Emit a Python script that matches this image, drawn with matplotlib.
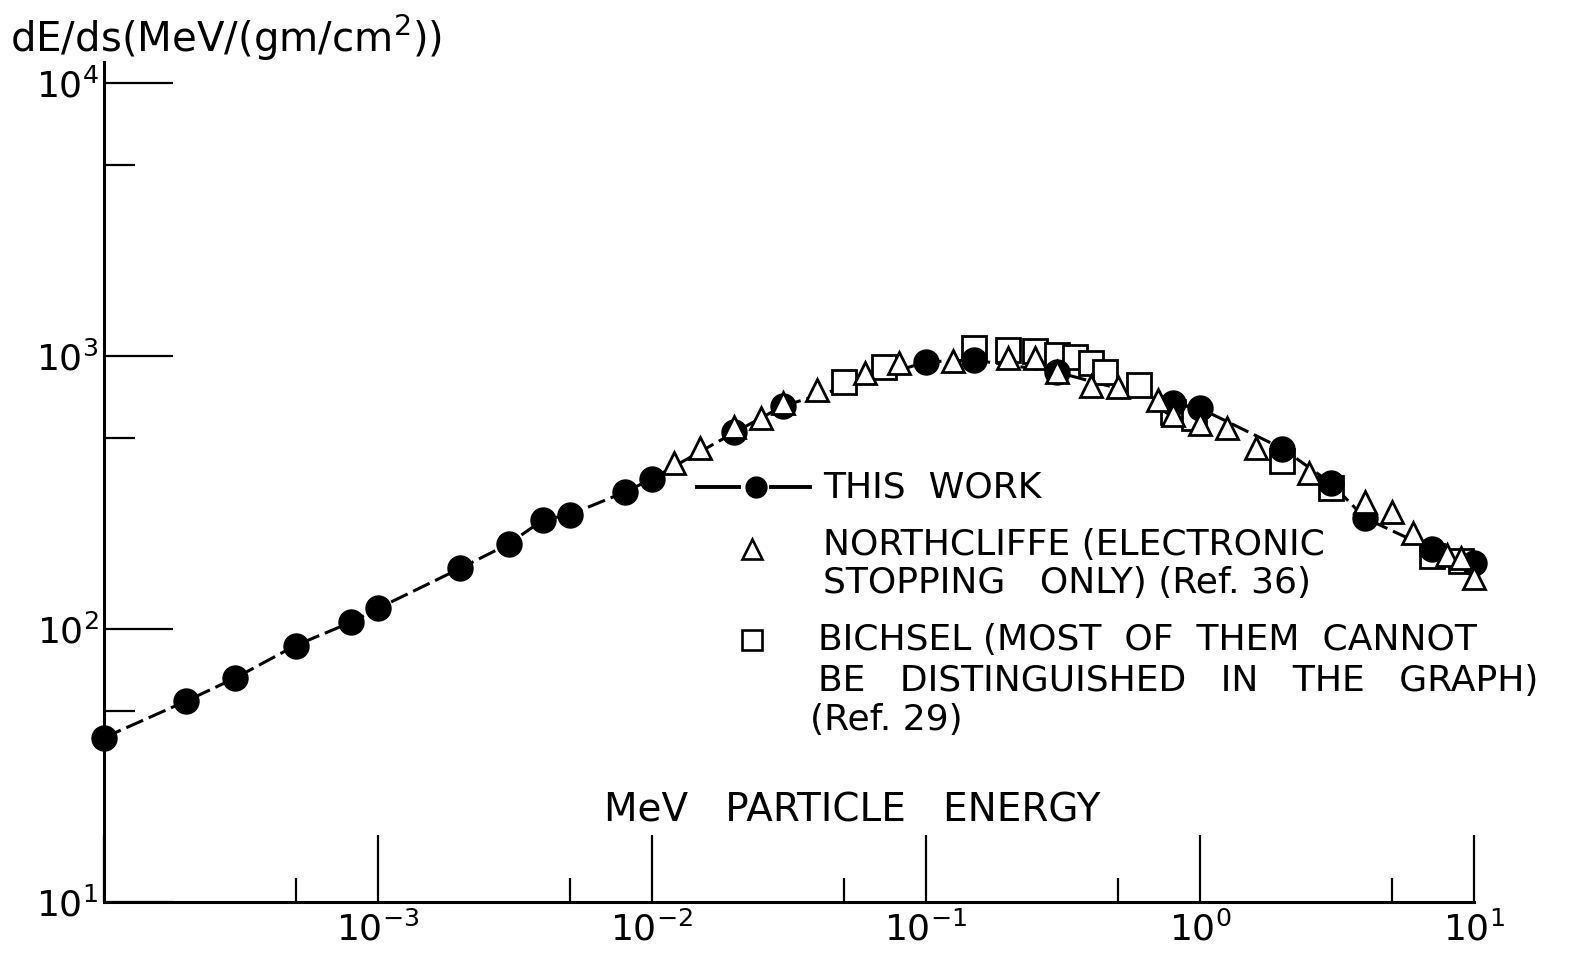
import matplotlib
matplotlib.use("Agg")
import matplotlib.pyplot as plt
from matplotlib.lines import Line2D
from matplotlib.ticker import FixedLocator, NullFormatter

# Stopping power dE/ds (MeV/(gm/cm^2)) versus particle energy (MeV)
this_work_energy = [1e-4, 2e-4, 3e-4, 5e-4, 8e-4, 1e-3, 2e-3, 3e-3, 4e-3, 5e-3,
                    8e-3, 1e-2, 2e-2, 3e-2, 0.1, 0.15, 0.3, 0.8, 1.0, 2.0,
                    3.0, 4.0, 7.0, 10.0]
this_work_dedx = [40, 54.5, 66, 87, 106, 119, 167, 205, 251, 262,
                  318, 355, 525, 655, 951, 967, 873, 671, 643, 458,
                  343, 255, 196, 174]

northcliffe_energy = [0.012, 0.015, 0.02, 0.025, 0.03, 0.04, 0.06, 0.08, 0.125,
                      0.2, 0.25, 0.3, 0.4, 0.5, 0.7, 0.8, 1.0, 1.25, 1.6,
                      2.5, 4.0, 5.0, 6.0, 8.0, 9.0, 10.0]
northcliffe_dedx = [406, 460, 550, 593, 673, 750, 866, 943, 959,
                    983, 983, 874, 776, 770, 690, 608, 563, 545, 460,
                    373, 292, 268, 225, 187, 182, 154]

bichsel_energy = [0.05, 0.07, 0.15, 0.2, 0.25, 0.3, 0.35, 0.4, 0.45, 0.6,
                  0.8, 0.95, 2.0, 3.0, 7.0, 9.0]
bichsel_dedx = [803, 912, 1070, 1052, 1043, 1008, 991, 943, 874, 783,
                623, 593, 412, 328, 185, 178]

x_major = [1e-4, 1e-3, 1e-2, 1e-1, 1e0, 1e1]
x_minor = [5e-4, 5e-3, 5e-2, 5e-1, 5e0]
x_labels = ["", r"$10^{-3}$", r"$10^{-2}$", r"$10^{-1}$", r"$10^{0}$", r"$10^{1}$"]
y_major = [1e1, 1e2, 1e3, 1e4]
y_minor = [5e1, 5e2, 5e3]
y_labels = [r"$10^{1}$", r"$10^{2}$", r"$10^{3}$", r"$10^{4}$"]

W, H = 1577, 961
fig = plt.figure(figsize=(W / 100, H / 100), dpi=100)
fig.patch.set_facecolor("white")

left, right, bottom, top = 104, 1474, 902, 62
ax = fig.add_axes([left / W, 1 - bottom / H, (right - left) / W, (bottom - top) / H])
ax.set_xscale("log")
ax.set_yscale("log")
ax.set_xlim(1e-4, 1e1)
ax.set_ylim(10, 10 ** (1 + (bottom - top) / 273))

for side in ("top", "right"):
    ax.spines[side].set_visible(False)
for side in ("left", "bottom"):
    ax.spines[side].set_linewidth(2.2)
    ax.spines[side].set_color("black")

ax.xaxis.set_major_locator(FixedLocator(x_major))
ax.xaxis.set_minor_locator(FixedLocator(x_minor))
ax.set_xticklabels(x_labels)
ax.xaxis.set_minor_formatter(NullFormatter())
ax.yaxis.set_major_locator(FixedLocator(y_major))
ax.yaxis.set_minor_locator(FixedLocator(y_minor))
ax.set_yticklabels(y_labels)
ax.yaxis.set_minor_formatter(NullFormatter())

ax.tick_params(axis="x", which="major", direction="in", length=48, width=1.6,
               labelsize=26, pad=7)
ax.tick_params(axis="x", which="minor", direction="in", length=17, width=1.6)
ax.tick_params(axis="y", which="major", direction="in", length=50, width=1.6,
               labelsize=26, pad=4)
ax.tick_params(axis="y", which="minor", direction="in", length=22, width=1.6)

# measured curve with dashed connecting line
ax.plot(this_work_energy, this_work_dedx, color="black", lw=2.2,
        linestyle=(0, (6, 2)), zorder=1, clip_on=False)
ax.plot(bichsel_energy, bichsel_dedx, linestyle="none", marker="s",
        markersize=17, markerfacecolor="white", markeredgecolor="black",
        markeredgewidth=2.0, zorder=2, clip_on=False)
ax.plot(this_work_energy, this_work_dedx, linestyle="none", marker="o",
        markersize=18, markerfacecolor="black", markeredgecolor="black",
        zorder=3, clip_on=False)
ax.plot(northcliffe_energy, northcliffe_dedx, linestyle="none", marker="^",
        markersize=16, markerfacecolor="white", markeredgecolor="black",
        markeredgewidth=2.0, zorder=4, clip_on=False)


def fx(px):
    return px / W


def fy(py):
    return 1 - py / H


fig.text(fx(10), fy(38), r"dE/ds(MeV/(gm/cm$^2$))", fontsize=29,
         ha="left", va="center")
fig.text(fx(852), fy(810), "MeV   PARTICLE   ENERGY", fontsize=28,
         ha="center", va="center")

# key
fig.add_artist(Line2D([fx(697), fx(739)], [fy(487), fy(487)],
                      transform=fig.transFigure, color="black", lw=2.8))
fig.add_artist(Line2D([fx(771), fx(810)], [fy(487), fy(487)],
                      transform=fig.transFigure, color="black", lw=2.8))
fig.add_artist(Line2D([fx(756)], [fy(487)], transform=fig.transFigure,
                      marker="o", markersize=15, color="black", linestyle="none"))
fig.add_artist(Line2D([fx(752)], [fy(549)], transform=fig.transFigure,
                      marker="^", markersize=14, markerfacecolor="white",
                      markeredgecolor="black", markeredgewidth=1.9,
                      linestyle="none"))
fig.add_artist(Line2D([fx(752)], [fy(640)], transform=fig.transFigure,
                      marker="s", markersize=15, markerfacecolor="white",
                      markeredgecolor="black", markeredgewidth=1.9,
                      linestyle="none"))

key_size = 26
fig.text(fx(823), fy(487), "THIS  WORK", fontsize=key_size, va="center")
fig.text(fx(823), fy(545), "NORTHCLIFFE (ELECTRONIC", fontsize=key_size, va="center")
fig.text(fx(823), fy(583), "STOPPING   ONLY) (Ref. 36)", fontsize=key_size, va="center")
fig.text(fx(818), fy(640), "BICHSEL (MOST  OF  THEM  CANNOT", fontsize=key_size, va="center")
fig.text(fx(818), fy(681), "BE   DISTINGUISHED   IN   THE   GRAPH)", fontsize=key_size, va="center")
fig.text(fx(810), fy(720), "(Ref. 29)", fontsize=key_size, va="center")

fig.savefig("out.png", dpi=100, facecolor="white")
